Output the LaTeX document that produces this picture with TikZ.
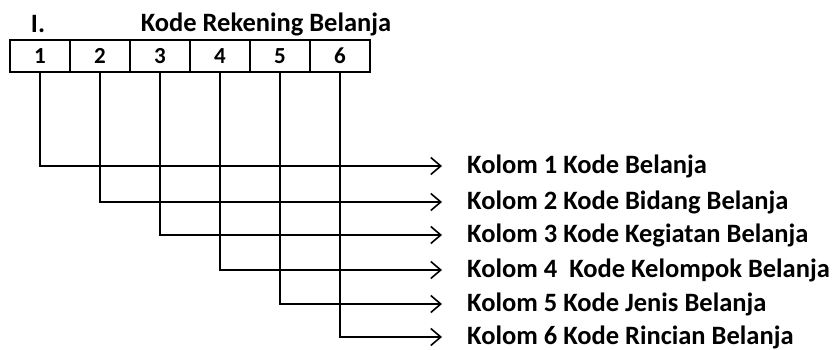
\documentclass[tikz,border=0pt]{standalone}
\usepackage{fontspec}
\setmainfont{Carlito}
\usetikzlibrary{arrows.meta}
\begin{document}
\begin{tikzpicture}[x=1pt,y=-1pt,
  cell/.style={draw,line width=1.6pt,minimum width=60pt,minimum height=32pt,inner sep=0pt,font=\fontsize{23}{23}\selectfont\bfseries},
  lab/.style={anchor=west,inner sep=0pt,font=\fontsize{26.5}{26.5}\selectfont\bfseries},
  conn/.style={line width=1.6pt,-{Straight Barb[length=10pt,width=17pt,line width=1.6pt]},shorten >=25pt}
]
\useasboundingbox (0,0) rectangle (835,350);
\node[font=\fontsize{26.5}{26.5}\selectfont\bfseries] (ttlI) at (38,24) {I.};
\node[font=\fontsize{26.5}{26.5}\selectfont\bfseries] (ttl) at (266,24) {Kode Rekening Belanja};
\foreach \i in {1,...,6}{
  \node[cell] (c\i) at ({10+60*\i-30},56) {\i};
}
\node[lab] (l1) at (467,166) {Kolom 1 Kode Belanja};
\node[lab] (l2) at (467,202) {Kolom 2 Kode Bidang Belanja};
\node[lab] (l3) at (467,235) {Kolom 3 Kode Kegiatan Belanja};
\node[lab] (l4) at (467,270) {Kolom 4\ \ Kode Kelompok Belanja};
\node[lab] (l5) at (467,304) {Kolom 5 Kode Jenis Belanja};
\node[lab] (l6) at (467,337) {Kolom 6 Kode Rincian Belanja};
\foreach \i in {1,...,6}{
  \draw[conn] (c\i.south) |- (l\i.west);
}
\end{tikzpicture}
\end{document}
